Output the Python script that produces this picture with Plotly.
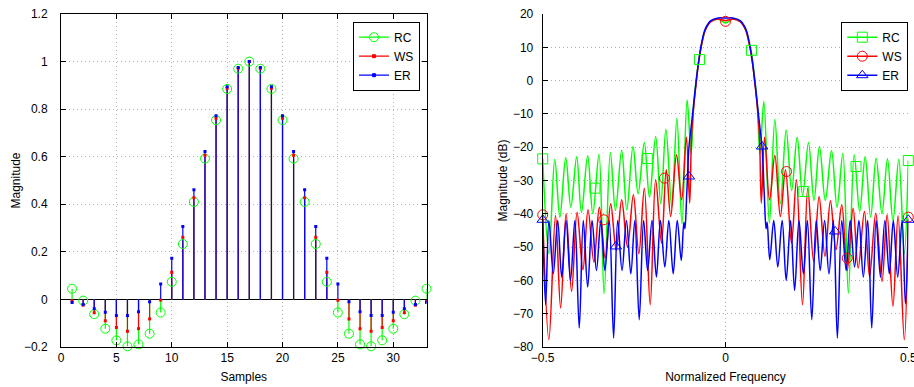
import plotly.graph_objects as go

# ---------------- left panel: impulse responses (stem) ----------------
samples = list(range(1, 34))
rc_taps = [0.045, -0.005, -0.062, -0.123, -0.172, -0.197, -0.189, -0.144, -0.055, 0.074,
           0.233, 0.410, 0.592, 0.754, 0.885, 0.970, 1.000, 0.970, 0.885, 0.754,
           0.592, 0.410, 0.233, 0.074, -0.055, -0.144, -0.189, -0.197, -0.172, -0.123,
           -0.062, -0.005, 0.045]
ws_taps = [-0.006, -0.024, -0.056, -0.090, -0.118, -0.134, -0.123, -0.082, -0.003, 0.114,
           0.261, 0.428, 0.606, 0.762, 0.888, 0.972, 1.000, 0.972, 0.888, 0.762,
           0.606, 0.428, 0.261, 0.114, -0.003, -0.082, -0.123, -0.134, -0.118, -0.090,
           -0.056, -0.024, -0.006]
er_taps = [-0.013, -0.021, -0.039, -0.054, -0.068, -0.068, -0.052, -0.010, 0.065, 0.173,
           0.307, 0.461, 0.622, 0.772, 0.894, 0.975, 1.000, 0.975, 0.894, 0.772,
           0.622, 0.461, 0.307, 0.173, 0.065, -0.010, -0.052, -0.068, -0.068, -0.054,
           -0.039, -0.021, -0.013]

# ---------------- right panel: magnitude responses (dB) ----------------
rc_f = [-0.500, -0.483, -0.467, -0.453, -0.437, -0.423, -0.407, -0.394, -0.377, -0.363,
        -0.346, -0.332, -0.315, -0.301, -0.284, -0.270, -0.253, -0.239, -0.222, -0.208,
        -0.191, -0.177, -0.163, -0.147, -0.133, -0.119, -0.105, -0.094, -0.087, -0.080,
        -0.071, -0.063, -0.055, -0.040, -0.020, 0.000, 0.020, 0.040, 0.055, 0.063,
        0.071, 0.080, 0.087, 0.094, 0.105, 0.120, 0.135, 0.150, 0.166, 0.181,
        0.196, 0.211, 0.227, 0.242, 0.257, 0.273, 0.290, 0.305, 0.321, 0.336,
        0.352, 0.367, 0.382, 0.397, 0.412, 0.428, 0.443, 0.458, 0.474, 0.489, 0.500]
rc_db = [-23.5, -52.0, -23.6, -41.0, -23.2, -38.0, -22.9, -39.6, -22.6, -40.0,
         -22.1, -64.0, -21.6, -39.0, -20.9, -38.8, -19.8, -34.0, -18.6, -35.0,
         -16.8, -37.0, -14.6, -38.0, -11.3, -43.0, -5.8, -22.0, -7.0, 0.5,
         7.5, 12.0, 15.3, 17.8, 18.4, 17.3, 18.4, 17.8, 15.3, 12.0,
         8.5, 0.5, -7.0, -22.0, -6.3, -42.8, -11.6, -37.0, -14.8, -33.0,
         -17.0, -34.5, -18.6, -36.0, -19.8, -36.0, -21.0, -38.0, -21.8, -63.8,
         -22.3, -39.3, -22.8, -41.0, -23.3, -40.0, -23.5, -42.0, -23.6, -52.0, -24.0]

ws_f = [-0.500, -0.483, -0.465, -0.451, -0.436, -0.421, -0.406, -0.390, -0.376, -0.360,
        -0.345, -0.329, -0.314, -0.299, -0.284, -0.268, -0.252, -0.237, -0.222, -0.206,
        -0.191, -0.175, -0.162, -0.150, -0.134, -0.120, -0.107, -0.098, -0.093, -0.087,
        -0.080, -0.073, -0.065, -0.055, -0.040, -0.020, 0.000, 0.020, 0.040, 0.055,
        0.065, 0.073, 0.080, 0.087, 0.093, 0.098, 0.107, 0.1205, 0.135, 0.150,
        0.164, 0.1805, 0.194, 0.2106, 0.225, 0.241, 0.256, 0.272, 0.287, 0.302,
        0.318, 0.333, 0.349, 0.363, 0.380, 0.394, 0.411, 0.428, 0.442, 0.458,
        0.472, 0.489, 0.500]
ws_db = [-40.3, -77.8, -40.5, -68.3, -40.0, -63.3, -39.5, -56.8, -38.8, -54.5,
         -38.0, -53.3, -37.0, -51.0, -35.8, -50.0, -34.3, -52.0, -32.3, -67.3,
         -29.8, -48.8, -26.8, -40.8, -22.3, -35.8, -17.0, -36.8, -17.0, -8.0,
         -0.5, 6.0, 11.0, 15.2, 17.7, 18.5, 18.0, 18.5, 17.7, 15.2,
         11.0, 6.0, -0.5, -8.0, -17.0, -36.8, -17.0, -35.8, -22.5, -40.8,
         -26.8, -48.8, -29.8, -67.3, -32.3, -54.3, -34.8, -52.8, -36.1, -50.8,
         -37.3, -57.0, -38.3, -56.3, -39.3, -58.8, -39.8, -60.3, -40.3, -67.8,
         -40.6, -77.8, -41.0]

er_f = [-0.500, -0.492, -0.483, -0.471, -0.459, -0.448, -0.436, -0.424, -0.412, -0.400,
        -0.389, -0.377, -0.365, -0.353, -0.341, -0.330, -0.318, -0.306, -0.295, -0.283,
        -0.271, -0.259, -0.248, -0.236, -0.224, -0.213, -0.201, -0.189, -0.178, -0.166,
        -0.155, -0.143, -0.132, -0.121, -0.114, -0.111, -0.106, -0.100, -0.094, -0.087,
        -0.080, -0.073, -0.065, -0.055, -0.040, -0.020, 0.000, 0.020, 0.040, 0.055,
        0.065, 0.073, 0.080, 0.087, 0.094, 0.100, 0.106, 0.111, 0.114, 0.121,
        0.132, 0.143, 0.155, 0.166, 0.178, 0.189, 0.201, 0.213, 0.224, 0.236,
        0.248, 0.259, 0.271, 0.283, 0.295, 0.306, 0.318, 0.330, 0.341, 0.353,
        0.365, 0.377, 0.389, 0.400, 0.412, 0.424, 0.436, 0.448, 0.459, 0.471,
        0.483, 0.492, 0.500]
er_db = [-41.8, -67.3, -42.0, -58.0, -42.0, -59.0, -42.0, -60.0, -42.0, -74.3,
         -42.0, -62.0, -42.0, -57.0, -42.0, -57.0, -42.0, -77.3, -42.0, -57.0,
         -42.0, -58.0, -42.0, -71.8, -42.0, -57.0, -42.0, -59.0, -42.0, -56.0,
         -42.0, -58.0, -42.0, -54.0, -42.5, -44.5, -34.0, -20.0, -14.0, -7.0,
         0.0, 6.0, 11.5, 15.6, 18.0, 18.8, 18.8, 18.8, 18.0, 15.6,
         11.5, 6.0, 0.0, -7.0, -14.0, -20.0, -34.0, -44.5, -42.5, -53.8,
         -42.0, -56.0, -42.0, -60.0, -42.0, -63.0, -42.0, -58.0, -42.0, -71.8,
         -42.0, -57.0, -42.0, -58.0, -42.0, -77.3, -42.0, -57.0, -42.0, -56.0,
         -42.0, -59.0, -42.0, -74.3, -42.0, -59.0, -42.0, -58.0, -42.0, -59.0,
         -42.0, -67.0, -41.8]

# marker positions
rc_mark_f = [-0.500, -0.357, -0.214, -0.071, 0.071, 0.214, 0.357, 0.500]
rc_mark_db = [-23.5, -32.3, -23.4, 6.3, 9.1, -33.3, -25.8, -24.0]
ws_mark_f = [-0.500, -0.333, -0.167, 0.000, 0.167, 0.333, 0.500]
ws_mark_db = [-40.3, -41.8, -29.3, 17.8, -27.3, -53.3, -41.0]
er_mark_f = [-0.500, -0.300, -0.100, 0.100, 0.300, 0.500]
er_mark_db = [-41.8, -49.8, -28.8, -19.8, -45.3, -41.8]

GREEN, RED, BLUE = "#00ff00", "#ff0000", "#0000ff"
FONT = "Liberation Sans, Arial, Helvetica, sans-serif"

fig = go.Figure()


def stem_xy(xs, ys):
    sx, sy = [], []
    for a, b in zip(xs, ys):
        sx += [a, a, None]
        sy += [0, b, None]
    return sx, sy


# stems, drawn green -> red -> blue (blue on top)
for taps, col in [(rc_taps, GREEN), (ws_taps, RED), (er_taps, BLUE)]:
    sx, sy = stem_xy(samples, taps)
    fig.add_trace(go.Scatter(x=sx, y=sy, mode="lines", line=dict(color=col, width=1.2),
                             showlegend=False, hoverinfo="skip", xaxis="x", yaxis="y"))
fig.add_trace(go.Scatter(x=samples, y=rc_taps, mode="markers", showlegend=False, cliponaxis=False,
                         marker=dict(symbol="circle-open", size=9, color=GREEN, line=dict(width=1)),
                         xaxis="x", yaxis="y"))
fig.add_trace(go.Scatter(x=samples, y=ws_taps, mode="markers", showlegend=False,
                         marker=dict(symbol="square", size=3, color=RED),
                         xaxis="x", yaxis="y"))
fig.add_trace(go.Scatter(x=samples, y=er_taps, mode="markers", showlegend=False,
                         marker=dict(symbol="square", size=3, color=BLUE),
                         xaxis="x", yaxis="y"))

# left legend entries
for nm, col, sym, sz in [("RC", GREEN, "circle-open", 9), ("WS", RED, "square", 3), ("ER", BLUE, "square", 3)]:
    fig.add_trace(go.Scatter(x=[None], y=[None], mode="lines+markers", name=nm,
                             line=dict(color=col, width=1.2),
                             marker=dict(symbol=sym, size=sz, color=col, line=dict(width=1, color=col)),
                             xaxis="x", yaxis="y", legend="legend"))

# right panel curves
for f, d, col in [(rc_f, rc_db, GREEN), (ws_f, ws_db, RED), (er_f, er_db, BLUE)]:
    fig.add_trace(go.Scatter(x=f, y=d, mode="lines", line=dict(color=col, width=1.5, shape="spline", smoothing=1.0),
                             showlegend=False, hoverinfo="skip", xaxis="x2", yaxis="y2"))
for f, d, col, sym in [(rc_mark_f, rc_mark_db, GREEN, "square-open"),
                       (ws_mark_f, ws_mark_db, RED, "circle-open"),
                       (er_mark_f, er_mark_db, BLUE, "triangle-up-open")]:
    fig.add_trace(go.Scatter(x=f, y=d, mode="markers", showlegend=False, cliponaxis=False,
                             marker=dict(symbol=sym, size=10, color=col, line=dict(width=1, color=col)),
                             xaxis="x2", yaxis="y2"))
for nm, col, sym in [("RC", GREEN, "square-open"), ("WS", RED, "circle-open"), ("ER", BLUE, "triangle-up-open")]:
    fig.add_trace(go.Scatter(x=[None], y=[None], mode="lines+markers", name=nm,
                             line=dict(color=col, width=1.5),
                             marker=dict(symbol=sym, size=10, color=col, line=dict(width=1, color=col)),
                             xaxis="x2", yaxis="y2", legend="legend2"))

W, H = 914, 387
ax_common = dict(showline=True, linecolor="black", linewidth=1, ticks="inside", ticklen=5,
                 tickcolor="black", showgrid=True, gridcolor="#b0b0b0", griddash="1px,3px",
                 gridwidth=1, automargin=False, ticklabeloverflow="allow",
                 tickfont=dict(family=FONT, size=12, color="black"),
                 title_font=dict(family=FONT, size=12, color="black"))

legend_common = dict(yanchor="top", xanchor="right", bgcolor="white", bordercolor="black", borderwidth=1,
                     font=dict(family=FONT, size=12), tracegroupgap=0,
                     entrywidth=36, entrywidthmode="pixels")

fig.update_layout(
    width=W, height=H, margin=dict(l=0, r=0, t=0, b=0, autoexpand=False),
    paper_bgcolor="white", plot_bgcolor="white",
    font=dict(family=FONT, size=12, color="black"),
    xaxis=dict(domain=[61 / W, 426.5 / W], range=[0, 33], dtick=5, tick0=0, mirror="ticks",
               zeroline=False, title=dict(text="Samples", standoff=8), anchor="y", **ax_common),
    yaxis=dict(domain=[40 / H, 373 / H], range=[-0.2, 1.2], dtick=0.2, tick0=0, mirror="ticks",
               zeroline=True, zerolinecolor="black", zerolinewidth=1,
               ticklabelstandoff=10, title=dict(text="Magnitude", standoff=0), anchor="x", **ax_common),
    xaxis2=dict(domain=[542.7 / W, 908.3 / W], range=[-0.5, 0.5], tickvals=[-0.5, 0, 0.5],
                ticktext=["\u22120.5", "0", "0.5"], zeroline=False, mirror=False,
                title=dict(text="Normalized Frequency", standoff=8), anchor="y2", **ax_common),
    yaxis2=dict(domain=[40 / H, 373 / H], range=[-80, 20], dtick=10, tick0=0, zeroline=False, mirror=False,
                ticklabelstandoff=6, title=dict(text="Magnitude (dB)", standoff=2), anchor="x2", **ax_common),
    legend=dict(x=420 / W, y=(H - 21.7) / H, **legend_common),
    legend2=dict(x=908.3 / W, y=(H - 21.7) / H, **legend_common),
)

fig.write_html("out.html", config={"displayModeBar": False},
               post_script="document.body.style.margin='0';document.body.style.padding='0';")
